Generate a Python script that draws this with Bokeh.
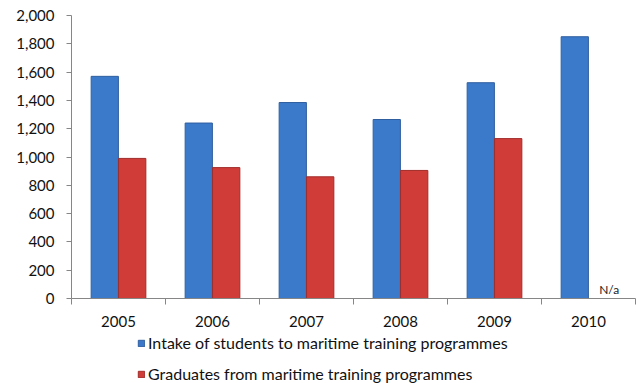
from bokeh.plotting import figure
from bokeh.models import (ColumnDataSource, FixedTicker, NumeralTickFormatter,
                          Legend, LegendItem, Range1d)
from bokeh.layouts import column
from bokeh.embed import file_html
from bokeh.resources import INLINE
from bokeh.core.properties import value

years = ["2005", "2006", "2007", "2008", "2009", "2010"]
intake = [1570, 1240, 1385, 1265, 1525, 1850]
graduates = [990, 925, 860, 905, 1130, None]
na_label = "N/a"
y_ticks = [0, 200, 400, 600, 800, 1000, 1200, 1400, 1600, 1800, 2000]
series_names = ["Intake of students to maritime training programmes",
                "Graduates from maritime training programmes"]

FONT = "Lato"
BLUE, BLUE_EDGE = "#3B79CB", "#2F5F9F"
RED, RED_EDGE = "#D03D39", "#A02C29"
n = len(years)
centers = [i + 0.5 for i in range(n)]
dodge = 0.146
bw = 0.29

src = ColumnDataSource(dict(
    xi=[c - dodge for c in centers],
    xg=[c + dodge for c in centers],
    intake=intake,
    grad=[float("nan") if g is None else g for g in graduates],
))

P_H = 332
p = figure(width=637, height=P_H, output_backend="svg", toolbar_location=None,
           x_range=Range1d(0, n), y_range=Range1d(0, y_ticks[-1]),
           min_border_left=71, min_border_right=2, min_border_top=15,
           min_border_bottom=P_H - 298)
p.outline_line_color = None
p.grid.grid_line_color = None

p.vbar(x="xi", top="intake", width=bw, source=src,
       fill_color=BLUE, line_color=BLUE_EDGE, line_width=1)
p.vbar(x="xg", top="grad", width=bw, source=src,
       fill_color=RED, line_color=RED_EDGE, line_width=1)

# N/a marker where the missing bar would be
na_x = [xg for xg, g in zip(src.data["xg"], graduates) if g is None]
p.text(x=na_x, y=[0] * len(na_x), text=[na_label] * len(na_x),
       text_font=value(FONT), text_font_size="12px", text_color="#222222",
       text_align="center", text_baseline="bottom", y_offset=-2, x_offset=7)

# axes
p.yaxis.ticker = FixedTicker(ticks=y_ticks)
p.yaxis.formatter = NumeralTickFormatter(format="0,0")
p.yaxis.axis_line_color = "#868686"
p.yaxis.major_tick_line_color = "#868686"
p.yaxis.major_tick_in = 0
p.yaxis.major_tick_out = 5
p.yaxis.minor_tick_line_color = None
p.yaxis.major_label_text_font = FONT
p.yaxis.major_label_text_font_size = "15px"
p.yaxis.major_label_text_color = "#111111"
p.yaxis.major_label_standoff = 12

p.xaxis.ticker = FixedTicker(ticks=centers, minor_ticks=list(range(n + 1)))
p.xaxis.major_label_overrides = {c: y for c, y in zip(centers, years)}
p.xaxis.axis_line_color = "#868686"
p.xaxis.major_tick_line_color = None
p.xaxis.major_tick_in = 0
p.xaxis.major_tick_out = 0
p.xaxis.minor_tick_line_color = "#868686"
p.xaxis.minor_tick_in = 0
p.xaxis.minor_tick_out = 6
p.xaxis.major_label_text_font = FONT
p.xaxis.major_label_text_font_size = "15px"
p.xaxis.major_label_text_color = "#111111"
p.xaxis.major_label_standoff = 11

# legend panel below the chart (its series renderers are hidden; legend only)
q = figure(width=637, height=383 - P_H, output_backend="svg",
           toolbar_location=None, min_border=0,
           x_axis_location=None, y_axis_location=None,
           x_range=Range1d(0, n), y_range=Range1d(0, y_ticks[-1]))
q.outline_line_color = None
q.grid.grid_line_color = None
l1 = q.vbar(x="xi", top="intake", width=bw, source=src,
            fill_color=BLUE, line_color=BLUE_EDGE, visible=False)
l2 = q.vbar(x="xg", top="grad", width=bw, source=src,
            fill_color=RED, line_color=RED_EDGE, visible=False)

legend = Legend(items=[LegendItem(label=series_names[0], renderers=[l1], index=0),
                       LegendItem(label=series_names[1], renderers=[l2], index=0)],
                location=(66, 0), orientation="vertical",
                glyph_width=8, glyph_height=8, label_height=8,
                spacing=12, padding=0, margin=0, label_standoff=3,
                label_text_font=FONT, label_text_font_size="16px",
                label_text_color="#111111",
                border_line_color=None, background_fill_alpha=0)
q.add_layout(legend, "center")

open("out.html", "w").write(file_html(column(p, q, spacing=0), INLINE))
